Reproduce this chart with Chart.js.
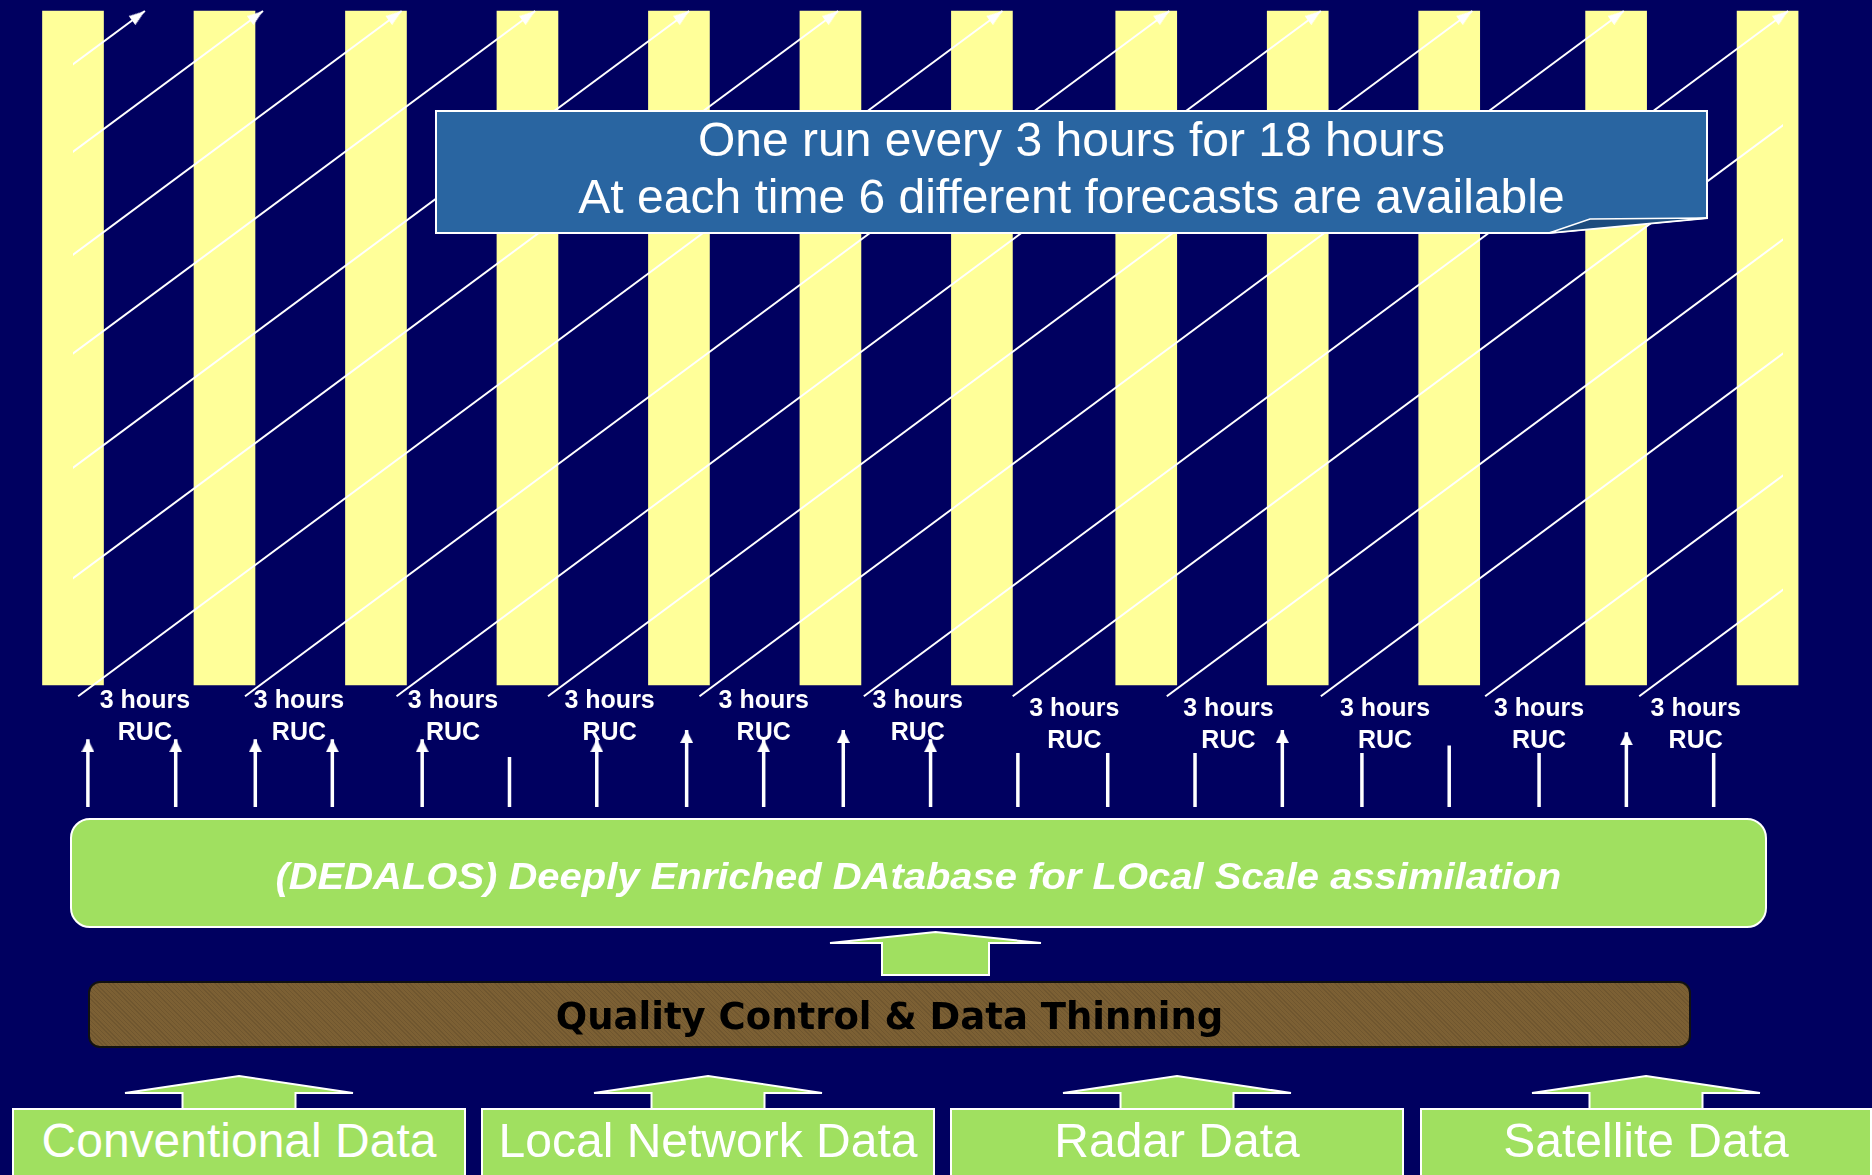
<!DOCTYPE html>
<html>
<head>
<meta charset="utf-8">
<script src="https://cdn.jsdelivr.net/npm/chart.js@4.4.1/dist/chart.umd.min.js"></script>
<style>
  html, body { margin: 0; padding: 0; background: #000060; }
  #wrap { position: relative; width: 1872px; height: 1175px; overflow: hidden; background: #000060;
          font-family: "Liberation Sans", Arial, sans-serif; }
  canvas { position: absolute; left: 0; }
  /* the layout keeps 14px above the plot, so the canvas is lifted by 3px */
  #cvRuns { top: -3px; }
  #cvObs { top: 700px; }
  svg { position: absolute; left: 0; top: 0; }
  .txt { position: absolute; color: #fff; text-align: center; white-space: nowrap; }
  .box { position: absolute; box-sizing: border-box; display: flex; align-items: center; justify-content: center;
         color: #fff; white-space: nowrap; }
</style>
</head>
<body>
<div id="wrap">
  <canvas id="cvRuns" width="1872" height="763"></canvas>
  <canvas id="cvObs" width="1872" height="120"></canvas>

  <svg width="1872" height="1175">
    <!-- callout -->
    <polygon points="436,111 1707,111 1707,218 1549,233 436,233" fill="#2965A1" stroke="#fff" stroke-width="2"/>
    <polygon points="1549,233 1590,219 1707,218" fill="#1D4C7E" stroke="#fff" stroke-width="1.5"/>
    <!-- block arrows -->
    <polygon points="935.5,932 1041,943 989,943 989,975 882,975 882,943 830,943" fill="#A0E060" stroke="#fff" stroke-width="2"/>
    <g id="srcArrows" fill="#A0E060" stroke="#fff" stroke-width="2"></g>
  </svg>

  <div class="txt" style="left:436px; top:111px; width:1271px; font-size:48px; line-height:57px;">
    One run every 3 hours for 18 hours<br>At each time 6 different forecasts are available
  </div>

  <div class="box" style="left:70px; top:818px; width:1697px; height:110px; padding-top:7px; background:#A0E060; border:2px solid #fff; border-radius:20px;">
    <span style="font-size:37px; font-weight:bold; font-style:italic; display:inline-block; transform:scaleX(1.08);">(DEDALOS) Deeply Enriched DAtabase for LOcal Scale assimilation</span>
  </div>

  <div class="box" style="left:88px; top:981px; width:1603px; height:67px; padding-top:4px; background-color:#7C6034; border:2px solid #111; border-radius:12px;
       background-image:repeating-linear-gradient(45deg, rgba(0,0,0,0.10) 0 1px, transparent 1px 3px);">
    <span style="font-family:'DejaVu Sans', sans-serif; font-weight:bold; font-size:37px; color:#000;">Quality Control &amp; Data Thinning</span>
  </div>

  <div id="sources"></div>
</div>

<script>
// time axis in hours, lead time in hours
const barHours = [0, 2.95, 5.9, 8.85, 11.8, 14.75, 17.7, 20.9, 23.85, 26.8, 30.05, 33];
const forecastLength = 18;
const lineBase = -0.3;   // run lines start a little below the columns
const runStart = [-16.6, -14.3, -11.6, -9.0, -6.0, -3.1, 0.1, 3.35, 6.3, 9.25, 12.2, 15.4, 18.3, 21.3, 24.3, 27.5, 30.5];
const rucTicksUpper = [1.4, 4.4, 7.4, 10.45, 13.45, 16.45];
const rucTicksLower = [19.5, 22.5, 25.55, 28.55, 31.6];
const rucLabel = ['3 hours', 'RUC'];

// observation inputs into the database
const obsHours = [0.29, 2.0, 3.55, 5.05, 6.8, 8.5, 10.2, 11.95, 13.45, 15.0, 16.7, 18.4, 20.15, 21.85, 23.55, 25.1, 26.8, 28.55, 30.25, 31.95];
const obsTop   = [0.88, 0.88, 0.88, 0.88, 0.88, 0.65, 0.88, 1.0, 0.88, 1.0, 0.88, 0.70, 0.70, 0.70, 1.0, 0.70, 0.80, 0.70, 0.97, 0.70];
const obsHead  = [1, 1, 1, 1, 1, 0, 1, 1, 1, 1, 1, 0, 0, 0, 1, 0, 0, 0, 1, 0];

const sourceNames = ['Conventional Data', 'Local Network Data', 'Radar Data', 'Satellite Data'];

const xMin = 0, xMax = 33.3;
const YELLOW = '#FFFF99';
const WHITE = '#FFFFFF';

// arrow head image, tip in the centre so it lands on the end point
const makeHead = (w, len) => {
    const c = document.createElement('canvas');
    c.width = w;
    c.height = len * 2;
    const g = c.getContext('2d');
    g.fillStyle = WHITE;
    g.beginPath();
    g.moveTo(w / 2, len);
    g.lineTo(w, len * 2);
    g.lineTo(0, len * 2);
    g.closePath();
    g.fill();
    return c;
};
const runHead = makeHead(11, 16);
const obsHeadImg = makeHead(13, 13);

const tickFont = { family: '"Liberation Sans", Arial, sans-serif', size: 25, weight: 'bold', lineHeight: 1.28 };

const runChart = new Chart(document.getElementById('cvRuns'), {
    type: 'bar',
    data: {
        datasets: [
            {
                type: 'bar',
                data: barHours.map(h => ({ x: h, y: [0, forecastLength] })),
                backgroundColor: YELLOW,
                barThickness: 61,
                clip: false,
                order: 2
            },
            ...runStart.map(s => ({
                type: 'line',
                data: [{ x: s, y: lineBase }, { x: s + forecastLength, y: forecastLength }],
                borderColor: WHITE,
                borderWidth: 2,
                pointStyle: runHead,
                pointRadius: ctx => ctx.dataIndex === 1 ? 12 : 0,
                pointRotation: ctx => {
                    const xs = ctx.chart.scales.x, ys = ctx.chart.scales.y;
                    const dx = xs.getPixelForValue(forecastLength) - xs.getPixelForValue(0);
                    const dy = ys.getPixelForValue(lineBase) - ys.getPixelForValue(forecastLength);
                    return Math.atan2(dx, dy) * 180 / Math.PI;
                },
                clip: { left: 0, top: 4, right: (s + forecastLength <= xMax + 0.5) ? 16 : 0, bottom: 12 },
                order: 1
            }))
        ]
    },
    options: {
        responsive: false,
        devicePixelRatio: 1,
        animation: false,
        events: [],
        layout: { padding: { left: 73, right: 89, top: 11, bottom: 0 } },
        plugins: { legend: { display: false }, tooltip: { enabled: false } },
        scales: {
            x: {
                type: 'linear',
                min: xMin,
                max: xMax,
                offset: false,
                weight: 0,
                grid: { display: false, drawTicks: false },
                border: { display: false },
                afterBuildTicks: axis => { axis.ticks = rucTicksUpper.map(v => ({ value: v })); },
                afterFit: axis => { axis.height = 75; },
                ticks: { autoSkip: false, maxRotation: 0, padding: 0, color: WHITE, font: tickFont, callback: () => rucLabel }
            },
            // second row of labels, sits a little lower
            xLower: {
                type: 'linear',
                axis: 'x',
                position: 'bottom',
                min: xMin,
                max: xMax,
                offset: false,
                weight: 1,
                grid: { display: false, drawTicks: false },
                border: { display: false },
                afterBuildTicks: axis => { axis.ticks = rucTicksLower.map(v => ({ value: v })); },
                afterFit: axis => { axis.height = 0; },
                ticks: { autoSkip: false, maxRotation: 0, mirror: true, padding: 35, color: WHITE, font: tickFont, callback: () => rucLabel }
            },
            y: { type: 'linear', min: 0, max: forecastLength, display: false }
        }
    }
});

// vertical arrows: one dataset broken by gaps
const obsPoints = [];
obsHours.forEach((h, i) => {
    obsPoints.push({ x: h, y: 0, head: 0 });
    obsPoints.push({ x: h, y: obsTop[i], head: obsHead[i] });
    obsPoints.push({ x: h, y: null, head: 0 });
});

const obsChart = new Chart(document.getElementById('cvObs'), {
    type: 'line',
    data: {
        datasets: [{
            data: obsPoints,
            borderColor: WHITE,
            borderWidth: 3.5,
            borderCapStyle: 'butt',
            spanGaps: false,
            pointStyle: obsHeadImg,
            pointRadius: ctx => (ctx.raw && ctx.raw.head) ? 10 : 0,
            clip: false
        }]
    },
    options: {
        responsive: false,
        devicePixelRatio: 1,
        animation: false,
        events: [],
        layout: { padding: { left: 73, right: 89, top: 30, bottom: 13 } },
        plugins: { legend: { display: false }, tooltip: { enabled: false } },
        scales: {
            x: { type: 'linear', min: xMin, max: xMax, display: false },
            y: { type: 'linear', min: 0, max: 1, display: false }
        }
    }
});

// data source boxes and their block arrows
const srcLeft = [12, 481, 950, 1420];
const srcWidth = [454, 454, 454, 452];
const sources = document.getElementById('sources');
const arrows = document.getElementById('srcArrows');
sourceNames.forEach((name, i) => {
    const d = document.createElement('div');
    d.className = 'box';
    d.style.cssText = `left:${srcLeft[i]}px; top:1108px; width:${srcWidth[i]}px; height:67px; background:#A0E060;
        border:2px solid #fff; border-bottom:none; padding-bottom:4px; font-size:48px;`;
    d.textContent = name;
    sources.appendChild(d);

    const cx = srcLeft[i] + srcWidth[i] / 2;
    const p = document.createElementNS('http://www.w3.org/2000/svg', 'polygon');
    p.setAttribute('points', [
        [cx, 1076], [cx + 114, 1093], [cx + 56.5, 1093], [cx + 56.5, 1109],
        [cx - 56.5, 1109], [cx - 56.5, 1093], [cx - 114, 1093]
    ].map(q => q.join(',')).join(' '));
    arrows.appendChild(p);
});
</script>
</body>
</html>
